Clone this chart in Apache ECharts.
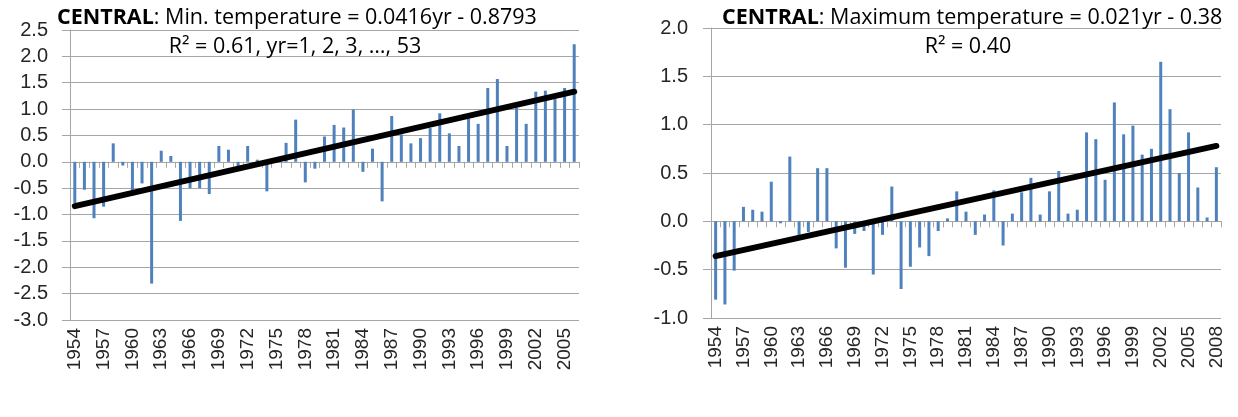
<!DOCTYPE html>
<html><head><meta charset="utf-8">
<script src="https://cdn.jsdelivr.net/npm/echarts@6/dist/echarts.min.js"></script>
<style>html,body{margin:0;padding:0;background:#fff}#c{width:1238px;height:417px}</style>
</head><body><div id="c"></div>
<script>
const minYears = ['1954','1955','1956','1957','1958','1959','1960','1961','1962','1963','1964','1965','1966','1967','1968','1969','1970','1971','1972','1973','1974','1975','1976','1977','1978','1979','1980','1981','1982','1983','1984','1985','1986','1987','1988','1989','1990','1991','1992','1993','1994','1995','1996','1997','1998','1999','2000','2001','2002','2003','2004','2005','2006'];
const minValues = [-0.78,-0.53,-1.07,-0.85,0.35,-0.07,-0.64,-0.41,-2.31,0.21,0.11,-1.12,-0.50,-0.50,-0.61,0.30,0.23,-0.08,0.30,0.04,-0.56,0.02,0.36,0.80,-0.39,-0.13,0.48,0.70,0.65,0.99,-0.19,0.25,-0.75,0.87,0.52,0.35,0.45,0.64,0.92,0.54,0.30,0.82,0.72,1.40,1.57,0.30,1.02,0.72,1.33,1.35,1.19,1.40,2.23];
const minTrend = [-0.84, 1.33];

const maxYears = ['1954','1955','1956','1957','1958','1959','1960','1961','1962','1963','1964','1965','1966','1967','1968','1969','1970','1971','1972','1973','1974','1975','1976','1977','1978','1979','1980','1981','1982','1983','1984','1985','1986','1987','1988','1989','1990','1991','1992','1993','1994','1995','1996','1997','1998','1999','2000','2001','2002','2003','2004','2005','2006','2007','2008'];
const maxValues = [-0.81,-0.86,-0.51,0.15,0.12,0.10,0.41,-0.02,0.67,-0.14,-0.11,0.55,0.55,-0.28,-0.48,-0.13,-0.10,-0.55,-0.14,0.36,-0.70,-0.47,-0.27,-0.36,-0.10,0.03,0.31,0.10,-0.14,0.07,0.32,-0.25,0.08,0.30,0.45,0.07,0.31,0.52,0.08,0.12,0.92,0.85,0.43,1.23,0.90,0.99,0.69,0.75,1.65,1.16,0.50,0.92,0.35,0.04,0.56];
const maxTrend = [-0.36, 0.78];

const minTicks = {min:-3, max:2.5, interval:0.5};
const maxTicks = {min:-1, max:2, interval:0.5};

const FONT = 'Liberation Sans';
const TFONT = 'Open Sans';
const TSIZE = 21.5;
const GRID_C = '#a6a6a6';
const BAR_C = '#4f81bd';
const TXT = '#262626';

function valueAxis(gi, t, margin){
  return {type:'value', gridIndex:gi, min:t.min, max:t.max, interval:t.interval,
    axisLine:{show:true, lineStyle:{color:GRID_C}},
    axisTick:{show:true, length:8, lineStyle:{color:GRID_C}},
    splitLine:{show:true, lineStyle:{color:GRID_C, width:1}},
    axisLabel:{formatter:v=>v.toFixed(1), fontSize:20, fontFamily:FONT, color:TXT, margin:margin}};
}
function zeroAxis(gi, cats){
  return {type:'category', gridIndex:gi, data:cats, position:'bottom',
    axisLine:{show:true, onZero:true, lineStyle:{color:GRID_C}},
    axisTick:{show:true, interval:0, length:6, lineStyle:{color:GRID_C}},
    axisLabel:{show:false}, splitLine:{show:false}};
}
function labelAxis(gi, cats){
  return {type:'category', gridIndex:gi, data:cats, position:'bottom',
    axisLine:{show:false, onZero:false}, axisTick:{show:false},
    axisLabel:{show:true, interval:2, rotate:90, fontSize:19, fontFamily:FONT, color:TXT, margin:8},
    splitLine:{show:false}};
}

const option = {
  animation:false,
  backgroundColor:'#fff',
  grid:[
    {left:70, top:30, width:509, height:290},
    {left:711, top:28, width:510, height:290}
  ],
  xAxis:[zeroAxis(0,minYears), labelAxis(0,minYears), zeroAxis(1,maxYears), labelAxis(1,maxYears)],
  yAxis:[valueAxis(0,minTicks,22), valueAxis(1,maxTicks,23)],
  series:[
    {type:'bar', xAxisIndex:0, yAxisIndex:0, data:minValues, barWidth:3, itemStyle:{color:BAR_C}, silent:true},
    {type:'line', xAxisIndex:0, yAxisIndex:0, data:[[minYears[0],minTrend[0]],[minYears[minYears.length-1],minTrend[1]]],
      symbol:'none', lineStyle:{color:'#000', width:6, cap:'round'}, silent:true, z:5},
    {type:'bar', xAxisIndex:2, yAxisIndex:1, data:maxValues, barWidth:3, itemStyle:{color:BAR_C}, silent:true},
    {type:'line', xAxisIndex:2, yAxisIndex:1, data:[[maxYears[0],maxTrend[0]],[maxYears[maxYears.length-1],maxTrend[1]]],
      symbol:'none', lineStyle:{color:'#000', width:6, cap:'round'}, silent:true, z:5}
  ],
  graphic:[
    {type:'text', x:57, y:18, z:10, style:{text:'{b|CENTRAL}: Min. temperature = 0.0416yr - 0.8793', fill:'#000', font:TSIZE+'px "'+TFONT+'"', verticalAlign:'middle',
      rich:{b:{fontWeight:'bold', fontSize:TSIZE, fontFamily:TFONT, fill:'#000'}}}},
    {type:'text', x:295, y:47, z:10, style:{text:'R² = 0.61, yr=1, 2, 3, …, 53', fill:'#000', font:TSIZE+'px "'+TFONT+'"', align:'center', verticalAlign:'middle'}},
    {type:'text', x:722, y:18, z:10, style:{text:'{b|CENTRAL}: Maximum temperature = 0.021yr - 0.38', fill:'#000', font:TSIZE+'px "'+TFONT+'"', verticalAlign:'middle',
      rich:{b:{fontWeight:'bold', fontSize:TSIZE, fontFamily:TFONT, fill:'#000'}}}},
    {type:'text', x:968, y:47, z:10, style:{text:'R² = 0.40', fill:'#000', font:TSIZE+'px "'+TFONT+'"', align:'center', verticalAlign:'middle'}}
  ]
};
const chart = echarts.init(document.getElementById('c'), null, {renderer:'canvas'});
chart.setOption(option);
</script>
</body></html>
